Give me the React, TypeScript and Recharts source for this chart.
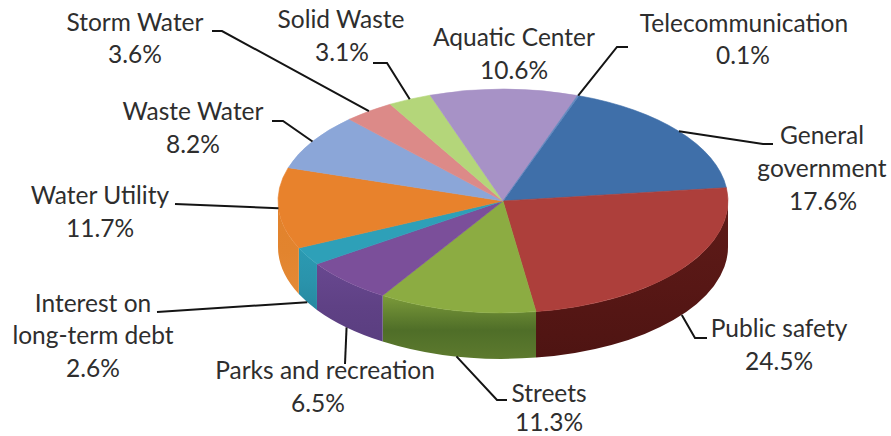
import { Pie, PieChart } from 'recharts'

const categories = [
  'General government',
  'Public safety',
  'Streets',
  'Parks and recreation',
  'Interest on long-term debt',
  'Water Utility',
  'Waste Water',
  'Storm Water',
  'Solid Waste',
  'Aquatic Center',
  'Telecommunication',
]
const shares = [17.6, 24.5, 11.3, 6.5, 2.6, 11.7, 8.2, 3.6, 3.1, 10.6, 0.1]

const topColors = [
  '#3f6fa9', '#ad3f3b', '#8cac42', '#7b4f9a', '#2ea0b8', '#e8822c',
  '#8ba6d8', '#dc8a88', '#b4d67a', '#a792c6', '#5f86bd',
]
// top / middle / bottom of the rim for each slice
const wallColors = [
  ['#2c4f78', '#2c4f78', '#2c4f78'],
  ['#5e1b18', '#571715', '#4e1412'],
  ['#7b9a3a', '#4f6e28', '#5d7a2e'],
  ['#684890', '#5f4185', '#5a3e80'],
  ['#2b9ab2', '#2a93ab', '#2688a0'],
  ['#e2822c', '#e2842e', '#e58a36'],
  ['#6f88b0', '#6f88b0', '#6f88b0'],
  ['#b06f6e', '#b06f6e', '#b06f6e'],
  ['#90ab62', '#90ab62', '#90ab62'],
  ['#86759e', '#86759e', '#86759e'],
  ['#4c6b97', '#4c6b97', '#4c6b97'],
]

// label text rows, leader elbow and end, and how far down the rim the leader starts
type Row = { text: string; x: number; y: number }
type Callout = { rows: Row[]; share: [number, number]; path: [number, number][]; rim: number }
const callouts: Callout[] = [
  {
    rows: [
      { text: 'General', x: 822, y: 144 },
      { text: 'government', x: 822, y: 177 },
    ],
    share: [823, 210],
    path: [[763, 144], [773, 144]],
    rim: 0,
  },
  { rows: [{ text: 'Public safety', x: 779, y: 337 }], share: [779, 370], path: [[695, 338], [707, 338]], rim: 1 },
  { rows: [{ text: 'Streets', x: 549, y: 402 }], share: [549, 431], path: [[497, 400], [507, 400]], rim: 1 },
  { rows: [{ text: 'Parks and recreation', x: 325, y: 379 }], share: [318, 412], path: [[345, 364]], rim: 1 },
  {
    rows: [
      { text: 'Interest on', x: 93, y: 312 },
      { text: 'long-term debt', x: 93, y: 344 },
    ],
    share: [93, 377],
    path: [[157, 312]],
    rim: 1,
  },
  { rows: [{ text: 'Water Utility', x: 100, y: 204 }], share: [100, 237], path: [[175, 204]], rim: 0 },
  { rows: [{ text: 'Waste Water', x: 193, y: 120 }], share: [193, 153], path: [[283, 121], [272, 121]], rim: 0 },
  { rows: [{ text: 'Storm Water', x: 135, y: 31 }], share: [135, 63], path: [[222, 31], [212, 31]], rim: 0 },
  { rows: [{ text: 'Solid Waste', x: 341, y: 28 }], share: [342, 61], path: [[387, 63], [373, 63]], rim: 0 },
  { rows: [{ text: 'Aquatic Center', x: 514, y: 46 }], share: [514, 79], path: [], rim: 0 },
  { rows: [{ text: 'Telecommunication', x: 744, y: 32 }], share: [743, 64], path: [[617, 47], [628, 47]], rim: 0 },
]

const rows = categories.map((name, i) => ({ name, value: shares[i] }))

const SQUASH = 0.497
const DEPTH = 46
const RAD = Math.PI / 180

const onRim = (cx: number, cy: number, r: number, deg: number) => ({
  x: cx + r * Math.cos(deg * RAD),
  y: cy - r * SQUASH * Math.sin(deg * RAD),
})

function TopSlice(props: any) {
  const { cx, cy, outerRadius: r, startAngle, endAngle, index } = props
  const a = onRim(cx, cy, r, startAngle)
  const b = onRim(cx, cy, r, endAngle)
  const large = Math.abs(startAngle - endAngle) > 180 ? 1 : 0
  const d = `M${cx},${cy} L${a.x},${a.y} A${r},${r * SQUASH} 0 ${large} 1 ${b.x},${b.y} Z`
  return <path d={d} fill={topColors[index]} stroke={topColors[index]} strokeWidth={0.6} />
}

// Only the front half of the disc shows a rim, so clip each slice to that half.
function WallSlice(props: any) {
  const { cx, cy, outerRadius: r, startAngle, endAngle, index } = props
  const hi = Math.min(startAngle, 0)
  const lo = Math.max(endAngle, -180)
  if (hi <= lo) return null
  const a = onRim(cx, cy, r, hi)
  const b = onRim(cx, cy, r, lo)
  const ry = r * SQUASH
  const d =
    `M${a.x},${a.y} A${r},${ry} 0 0 1 ${b.x},${b.y} L${b.x},${b.y + DEPTH} ` +
    `A${r},${ry} 0 0 0 ${a.x},${a.y + DEPTH} Z`
  return <path d={d} fill={`url(#wall${index})`} />
}

function Callout(props: any) {
  const { cx, cy, outerRadius, midAngle, index } = props
  const c = callouts[index]
  const start = onRim(cx, cy, outerRadius, midAngle)
  const pts = [[start.x, start.y + c.rim * DEPTH], ...c.path]
  return (
    <g>
      {c.path.length > 0 && (
        <polyline points={pts.map((p) => p.join(',')).join(' ')} fill="none" stroke="#141414" strokeWidth={2} />
      )}
      <g fontFamily="Lato, sans-serif" fontSize={24.5} fill="#2e2e2e" textAnchor="middle">
        {c.rows.map((row) => (
          <text key={row.text} x={row.x} y={row.y}>
            {row.text}
          </text>
        ))}
        <text x={c.share[0]} y={c.share[1]}>
          {shares[index].toFixed(1)}%
        </text>
      </g>
    </g>
  )
}

export default function App() {
  return (
    <div style={{ position: 'absolute', left: 0, top: 0, background: '#fff' }}>
      <PieChart width={891} height={436} margin={{ top: 0, right: 0, bottom: 0, left: 0 }}>
        <defs>
          {wallColors.map((stops, i) => (
            <linearGradient key={i} id={`wall${i}`} x1="0" y1="0" x2="0" y2="1">
              <stop offset="0%" stopColor={stops[0]} />
              <stop offset="55%" stopColor={stops[1]} />
              <stop offset="100%" stopColor={stops[2]} />
            </linearGradient>
          ))}
        </defs>
        <Pie
          data={rows}
          dataKey="value"
          nameKey="name"
          cx={503}
          cy={201}
          outerRadius={225}
          startAngle={70.3}
          endAngle={-289.7}
          shape={WallSlice}
          stroke="none"
          labelLine={false}
          isAnimationActive={false}
        />
        <Pie
          data={rows}
          dataKey="value"
          nameKey="name"
          cx={503}
          cy={201}
          outerRadius={225}
          startAngle={70.3}
          endAngle={-289.7}
          shape={TopSlice}
          stroke="none"
          label={Callout}
          labelLine={false}
          isAnimationActive={false}
        />
      </PieChart>
    </div>
  )
}
